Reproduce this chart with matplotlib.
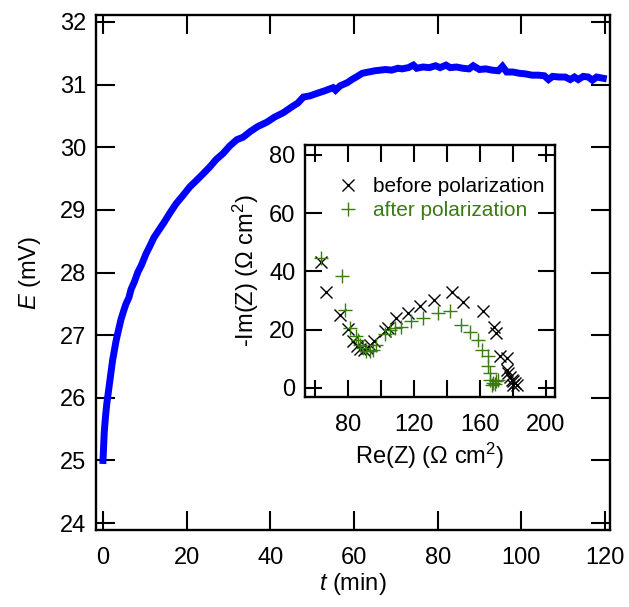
import matplotlib
matplotlib.use("Agg")
import matplotlib.pyplot as plt
from matplotlib.ticker import FixedLocator, FuncFormatter

plt.rcParams['font.family'] = ['Liberation Sans', 'DejaVu Sans']
plt.rcParams['mathtext.fontset'] = 'custom'
plt.rcParams['mathtext.rm'] = 'Liberation Sans'
plt.rcParams['mathtext.it'] = 'Liberation Sans:italic'

# ---- main curve: potential vs time ----
t_min = [0, 0.3, 0.6, 0.9, 1.2, 1.5, 1.9, 2.3, 2.7, 3.1, 3.6, 4.3, 5.0, 5.5, 6.2, 6.7,
         7.5, 8.3, 9.2, 10.3, 11.2, 12.2, 13.4, 14.6, 16.0, 17.5, 19.0, 20.8, 22.5, 24.0,
         25.6, 27.0, 28.7, 30.3, 32.0, 33.5, 35.2, 37.0, 39.2, 41.0, 43.1, 45.5, 46.5,
         47.9, 49.5, 51.2, 53.0, 55.0, 55.6, 56.7, 58.4, 59.5, 60.8, 62.0, 63.5, 65.0,
         66.3, 67.5, 69.0, 70.5, 71.5, 73.0, 74.2, 75.0, 76.5, 78.0, 79.5, 80.6, 82.0,
         83.0, 84.5, 86.0, 87.5, 88.5, 90.0, 91.5, 93.0, 94.5, 95.5, 96.5, 98.0, 99.5,
         101.0, 102.5, 104.0, 105.5, 106.5, 107.5, 109.0, 110.5, 111.7, 112.7, 113.6,
         114.8, 116.0, 117.0, 118.0, 119.6]
e_mv = [25.0, 25.45, 25.7, 25.9, 26.05, 26.2, 26.4, 26.6, 26.75, 26.9, 27.05, 27.25, 27.4,
        27.5, 27.6, 27.73, 27.85, 28.0, 28.12, 28.3, 28.42, 28.56, 28.68, 28.8, 28.95, 29.1,
        29.22, 29.37, 29.48, 29.58, 29.69, 29.8, 29.9, 30.02, 30.12, 30.16, 30.25, 30.33,
        30.4, 30.48, 30.55, 30.66, 30.7, 30.8, 30.82, 30.86, 30.9, 30.95, 30.91, 30.98, 31.03,
        31.08, 31.13, 31.18, 31.2, 31.22, 31.23, 31.24, 31.23, 31.26, 31.25, 31.27, 31.31,
        31.26, 31.28, 31.27, 31.3, 31.27, 31.31, 31.27, 31.28, 31.26, 31.25, 31.3, 31.24,
        31.25, 31.23, 31.22, 31.29, 31.2, 31.2, 31.18, 31.17, 31.15, 31.15, 31.14, 31.08,
        31.13, 31.12, 31.12, 31.08, 31.12, 31.08, 31.13, 31.12, 31.07, 31.12, 31.1]

# ---- inset: impedance spectra ----
re_before = [63.8, 66.8, 75.5, 80.0, 83.0, 85.5, 87.1, 89.7, 91.5, 93.2, 95.6, 102.3, 104.3,
             108.9, 116.4, 123.5, 132.2, 142.8, 149.8, 162.0, 168.5, 169.7, 172.1, 176.6,
             176.2, 177.2, 178.2, 179.2, 180.2, 181.2, 182.2, 179.8]
im_before = [43.4, 32.8, 25.1, 20.2, 16.0, 14.3, 13.4, 13.1, 13.7, 14.9, 16.0, 19.4, 20.6,
             24.0, 25.9, 28.0, 30.3, 32.9, 29.5, 26.3, 20.8, 18.9, 11.1, 10.2, 6.3, 5.1, 3.8,
             2.9, 2.3, 1.7, 1.1, 1.1]
re_after = [63.8, 76.6, 78.0, 81.0, 84.7, 86.1, 87.1, 89.1, 91.1, 93.2, 95.2, 97.2, 102.3,
            105.3, 108.3, 112.4, 118.5, 125.5, 134.7, 141.7, 148.8, 153.9, 158.9, 161.0,
            165.0, 165.0, 166.0, 166.4, 168.0, 169.7, 171.1, 167.6, 169.0]
im_after = [44.6, 38.5, 26.6, 20.6, 17.7, 16.6, 14.9, 13.7, 12.6, 12.6, 13.1, 14.9, 18.6,
            20.0, 20.6, 20.8, 22.9, 24.0, 25.7, 26.3, 21.7, 19.1, 16.6, 13.1, 10.9, 7.4, 5.1,
            2.9, 1.7, 2.3, 2.9, 1.1, 1.4]

main_xticks = [0, 20, 40, 60, 80, 100, 120]
main_yticks = [24, 25, 26, 27, 28, 29, 30, 31, 32]
inset_xticks = [60, 80, 100, 120, 140, 160, 180, 200]
inset_xlabels = [80, 120, 160, 200]
inset_yticks = [0, 20, 40, 60, 80]

green = '#3c7a12'
W, H = 629, 607
fig = plt.figure(figsize=(W / 100, H / 100), dpi=100)

def style(ax, ticklen):
    for s in ax.spines.values():
        s.set_linewidth(1.7)
    ax.tick_params(direction='in', length=ticklen, width=1.5, top=True, right=True,
                   labelsize=17, color='black')
    ax.tick_params(axis='x', pad=12)
    ax.tick_params(axis='y', pad=7)

ax = fig.add_axes([96 / W, 1 - 530 / H, (610 - 96) / W, (530 - 15) / H])
ax.plot(t_min, e_mv, color='#0000ff', lw=5.0, solid_joinstyle='miter')
ax.set_xlim(-1.67, 121.2)
ax.set_ylim(23.89, 32.11)
ax.set_xticks(main_xticks)
ax.set_yticks(main_yticks)
style(ax, 14)
ax.set_xlabel('$t$ (min)', fontsize=17, labelpad=2)
ax.set_ylabel('$E$ (mV)', fontsize=17, labelpad=12)

ins = fig.add_axes([305 / W, 1 - 397 / H, (555 - 305) / W, (397 - 145) / H])
ins.plot(re_before, im_before, linestyle='none', marker='x', ms=8.5, mew=1.0,
         color='black', label='before polarization')
ins.plot(re_after, im_after, linestyle='none', marker='+', ms=9.5, mew=1.0,
         color=green, label='after polarization')
ins.set_xlim(54, 205.5)
ins.set_ylim(-3.1, 83.4)
ins.xaxis.set_major_locator(FixedLocator(inset_xticks))
ins.xaxis.set_major_formatter(FuncFormatter(
    lambda v, p: str(int(round(v))) if int(round(v)) in inset_xlabels else ''))
ins.set_yticks(inset_yticks)
style(ins, 12.5)
ins.set_xlabel('Re(Z) (Ω cm$^{2}$)', fontsize=17, labelpad=4)
ins.set_ylabel('-Im(Z) (Ω cm$^{2}$)', fontsize=17, labelpad=6)
leg = ins.legend(loc='upper left', bbox_to_anchor=(0.07, 0.93), frameon=False,
                 fontsize=15, handlelength=1.0, handletextpad=0.7, borderpad=0.2,
                 labelspacing=0.25)
leg.get_texts()[1].set_color(green)

fig.savefig('out.png', dpi=100)
